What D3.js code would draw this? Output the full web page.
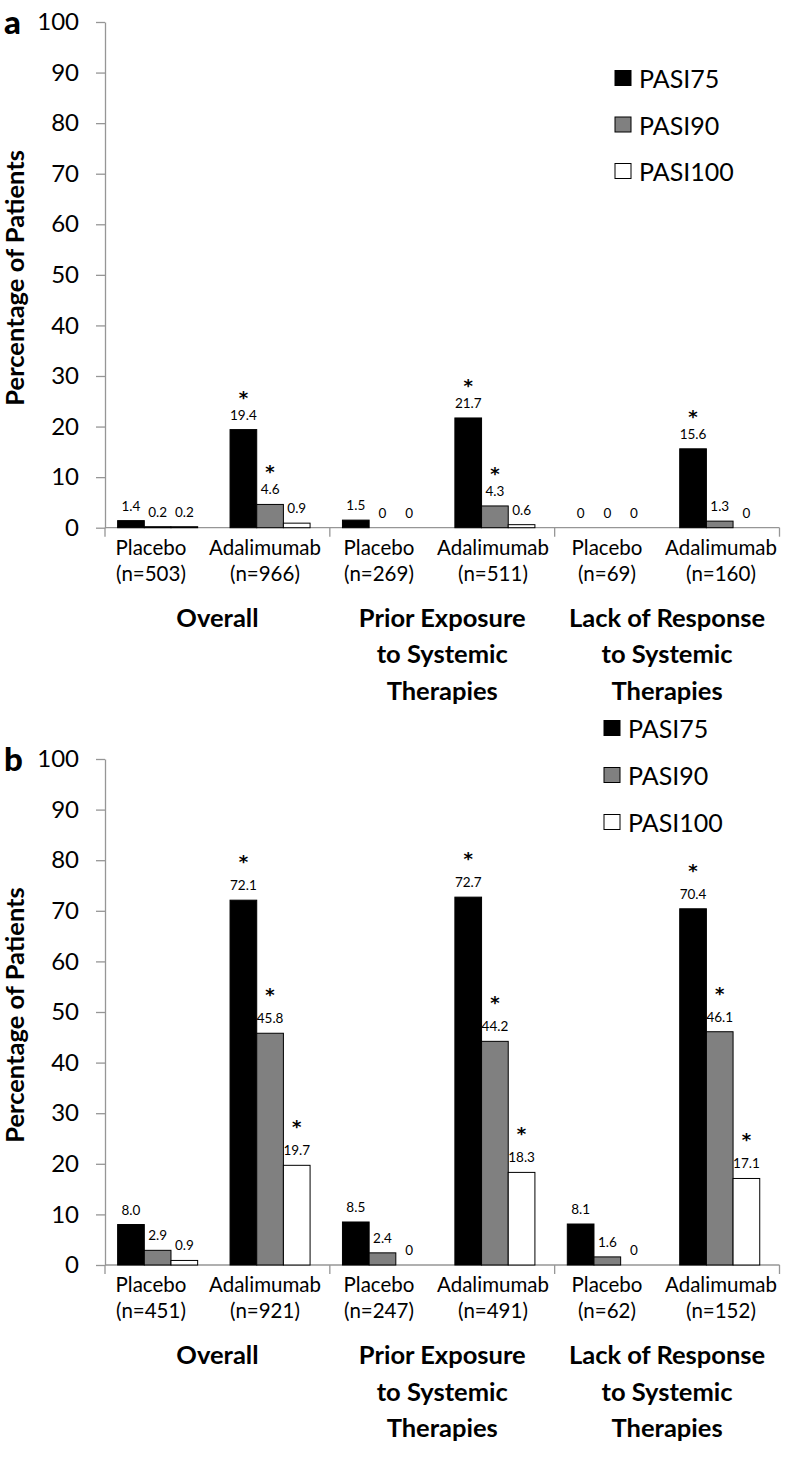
<!DOCTYPE html>
<html><head><meta charset="utf-8">
<script src="https://cdn.jsdelivr.net/npm/d3@7"></script>
<style>body{margin:0;background:#fff} svg{display:block}</style>
</head><body>
<svg id="chart" width="786" height="1474"></svg>
<script>
// ---------- data ----------
const groups = ["Overall", "Prior Exposure to Systemic Therapies", "Lack of Response to Systemic Therapies"];
const groupLines = [["Overall"], ["Prior Exposure", "to Systemic", "Therapies"], ["Lack of Response", "to Systemic", "Therapies"]];
const treatments = ["Placebo", "Adalimumab"];
const series = ["PASI75", "PASI90", "PASI100"];
const seriesColors = ["#000000", "#808080", "#ffffff"];
const yTicks = [0, 10, 20, 30, 40, 50, 60, 70, 80, 90, 100];

// panel a  (order: Overall-Placebo, Overall-Adalimumab, Prior-Placebo, Prior-Adalimumab, Lack-Placebo, Lack-Adalimumab)
const nA = [503, 966, 269, 511, 69, 160];
const pasi75A = [1.4, 19.4, 1.5, 21.7, 0, 15.6];
const pasi90A = [0.2, 4.6, 0, 4.3, 0, 1.3];
const pasi100A = [0.2, 0.9, 0, 0.6, 0, 0];
const sig75A = [0, 1, 0, 1, 0, 1];
const sig90A = [0, 1, 0, 1, 0, 0];
const sig100A = [0, 0, 0, 0, 0, 0];

// panel b
const nB = [451, 921, 247, 491, 62, 152];
const pasi75B = [8.0, 72.1, 8.5, 72.7, 8.1, 70.4];
const pasi90B = [2.9, 45.8, 2.4, 44.2, 1.6, 46.1];
const pasi100B = [0.9, 19.7, 0, 18.3, 0, 17.1];
const sig75B = [0, 1, 0, 1, 0, 1];
const sig90B = [0, 1, 0, 1, 0, 1];
const sig100B = [0, 1, 0, 1, 0, 1];

// ---------- drawing ----------
const FONT = "Lato, 'Open Sans', sans-serif";
const AXIS_GREY = "#969696";
const svg = d3.select("#chart");

const subKeys = [];
groups.forEach(g => treatments.forEach(t => subKeys.push(g + "|" + t)));

const xGroup = d3.scaleBand().domain(groups).range([105, 779.5]).padding(0);
const xTreat = d3.scaleBand().domain(treatments).range([0, xGroup.bandwidth()]).padding(0);
const xSeries = d3.scaleBand().domain(series).range([0, xTreat.bandwidth()])
  .paddingInner(0).paddingOuter(0.607).align(0.39);
const xLabel = d3.scaleBand().domain(subKeys).range([94, 778]);
const fmt = v => v === 0 ? "0" : d3.format(".1f")(v);

function drawPanel(p) {
  const y = d3.scaleLinear().domain([0, 100]).range([p.y0, p.y100]);
  const g = svg.append("g");

  // y axis
  const ax = g.append("g").attr("transform", "translate(105,0)")
    .call(d3.axisLeft(y).tickValues(yTicks).tickSize(9).tickPadding(17).tickSizeOuter(0));
  ax.selectAll("path,line").attr("stroke", AXIS_GREY).attr("stroke-width", 1.3);
  ax.selectAll("text").attr("font-family", FONT).attr("font-size", 24).attr("fill", "#000");

  // x axis line and group boundary ticks
  const xr = xGroup.range();
  g.append("line").attr("x1", xr[0]).attr("x2", xr[1]).attr("y1", y(0)).attr("y2", y(0))
    .attr("stroke", AXIS_GREY).attr("stroke-width", 1.3);
  const bounds = groups.map(d => xGroup(d)).concat([xr[1]]);
  g.selectAll(".bt").data(bounds).join("line")
    .attr("x1", d => d).attr("x2", d => d).attr("y1", y(0)).attr("y2", y(0) + 9)
    .attr("stroke", AXIS_GREY).attr("stroke-width", 1.3);

  // bars
  const rows = [];
  subKeys.forEach((k, i) => {
    const [grp, tr] = k.split("|");
    series.forEach((s, j) => {
      rows.push({grp, tr, s, j, v: p.values[j][i], sig: p.sigs[j][i]});
    });
  });
  const bx = d => xGroup(d.grp) + xTreat(d.tr) + xSeries(d.s);
  g.selectAll(".bar").data(rows).join("rect")
    .attr("x", bx).attr("y", d => y(d.v))
    .attr("width", xSeries.bandwidth()).attr("height", d => y(0) - y(d.v))
    .attr("fill", d => seriesColors[d.j]).attr("stroke", "#000").attr("stroke-width", 1);

  // value labels
  g.selectAll(".vl").data(rows).join("text")
    .attr("x", d => bx(d) + xSeries.bandwidth() / 2).attr("y", d => y(d.v) - 15)
    .attr("text-anchor", "middle").attr("dominant-baseline", "central")
    .attr("font-family", FONT).attr("font-size", 13.5).attr("fill", "#000")
    .text(d => fmt(d.v));
  // significance asterisks
  g.selectAll(".ast").data(rows.filter(d => d.sig)).join("text")
    .attr("x", d => bx(d) + xSeries.bandwidth() / 2).attr("y", d => y(d.v) - 15 - p.astOff + 10)
    .attr("text-anchor", "middle")
    .attr("font-family", "'DejaVu Sans', sans-serif").attr("font-weight", "bold")
    .attr("font-size", 18).attr("fill", "#000")
    .text("*");

  // category labels
  subKeys.forEach((k, i) => {
    const cx = xLabel(k) + xLabel.bandwidth() / 2;
    const tr = k.split("|")[1];
    const t = g.append("text").attr("text-anchor", "middle").attr("font-family", FONT)
      .attr("font-size", 20.5).attr("fill", "#000");
    t.append("tspan").attr("x", cx).attr("y", y(0) + 19).attr("dominant-baseline", "central").text(tr);
    t.append("tspan").attr("x", cx).attr("y", y(0) + 45).attr("dominant-baseline", "central").text("(n=" + p.n[i] + ")");
  });

  // group labels
  groups.forEach((grp, gi) => {
    const cx = xGroup(grp) + xGroup.bandwidth() / 2;
    groupLines[gi].forEach((line, li) => {
      g.append("text").attr("x", cx).attr("y", y(0) + 89 + li * 36.5)
        .attr("text-anchor", "middle").attr("dominant-baseline", "central")
        .attr("font-family", FONT).attr("font-weight", "bold").attr("font-size", 25.5)
        .attr("fill", "#000").text(line);
    });
  });

  // y title
  g.append("text")
    .attr("transform", `translate(24,${(y(0) + y(100)) / 2 + 3}) rotate(-90)`)
    .attr("text-anchor", "middle")
    .attr("font-family", FONT).attr("font-weight", "bold").attr("font-size", 25.5)
    .attr("fill", "#000").text("Percentage of Patients");

  // panel letter
  g.append("text").attr("x", 4).attr("y", y(100) + 12)
    .attr("font-family", FONT).attr("font-weight", "900").attr("font-size", 33)
    .attr("fill", "#000").text(p.letter);

  // legend
  const lg = g.append("g").attr("transform", `translate(${p.legX},${p.legY})`);
  series.forEach((s, j) => {
    const row = lg.append("g").attr("transform", `translate(0,${j * p.legStep})`);
    row.append("rect").attr("x", 0).attr("y", -7.5).attr("width", 16).attr("height", 15)
      .attr("fill", seriesColors[j]).attr("stroke", "#000").attr("stroke-width", 1);
    row.append("text").attr("x", 24).attr("y", 0).attr("dominant-baseline", "central")
      .attr("font-family", FONT).attr("font-size", 25).attr("fill", "#000").text(s);
  });
}

drawPanel({letter: "a", y0: 527.7, y100: 22, n: nA,
  values: [pasi75A, pasi90A, pasi100A], sigs: [sig75A, sig90A, sig100A],
  astOff: 21, legX: 615, legY: 78, legStep: 46.5});
drawPanel({letter: "b", y0: 1265, y100: 759, n: nB,
  values: [pasi75B, pasi90B, pasi100B], sigs: [sig75B, sig90B, sig100B],
  astOff: 27, legX: 604, legY: 728, legStep: 47});
</script>
</body></html>
